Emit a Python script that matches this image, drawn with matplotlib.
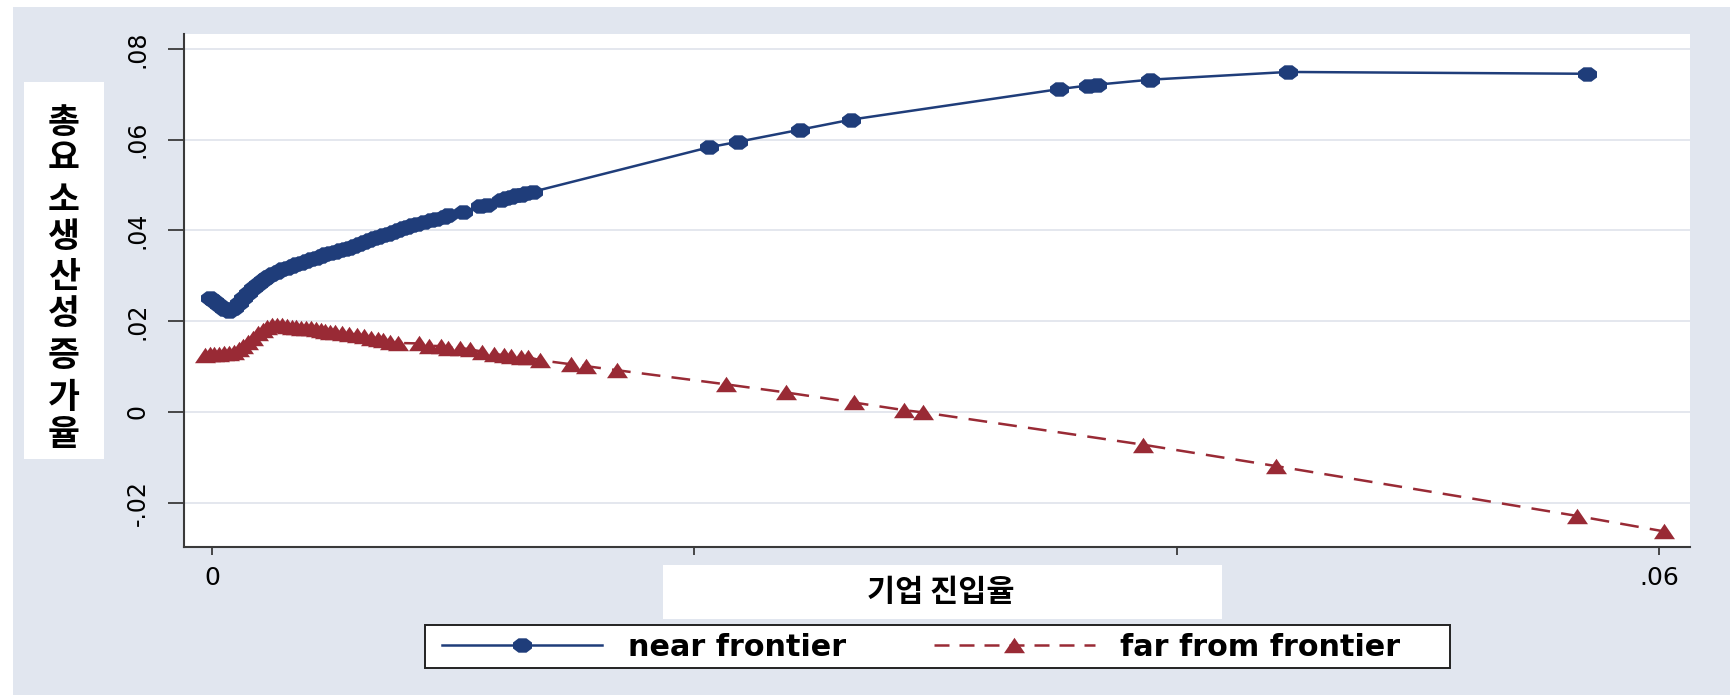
"""
TFP growth vs. firm entry rate, near / far from frontier (Stata-style line plot).
"""

import numpy as np
import matplotlib
matplotlib.use("Agg")
import matplotlib.pyplot as plt
from matplotlib.lines import Line2D
from matplotlib.patches import Rectangle
from matplotlib.path import Path

# ---- data ----
near_x = [-0.0001, 0.0001, 0.0003, 0.0005, 0.0007, 0.0009, 0.0011, 0.0013, 0.0015,
          0.0017, 0.0019, 0.0021, 0.0023, 0.0025, 0.0027, 0.0029, 0.0031, 0.0033,
          0.0035, 0.0037, 0.0039, 0.0041, 0.0043, 0.0045, 0.0047, 0.0049, 0.0051,
          0.0053, 0.0055, 0.0057, 0.0059, 0.0061, 0.0063, 0.0065, 0.0067, 0.0069,
          0.0071, 0.0073, 0.0075, 0.0077, 0.0079, 0.0081, 0.0083, 0.0085, 0.0088,
          0.0091, 0.0093, 0.0096, 0.0098, 0.0104, 0.0111, 0.0114, 0.0120, 0.0122,
          0.0124, 0.0126, 0.0128, 0.0130, 0.0133, 0.0206, 0.0218, 0.0244, 0.0265,
          0.0351, 0.0363, 0.0367, 0.0389, 0.0446, 0.0570]
near_y = [0.0251, 0.0244, 0.0235, 0.0226, 0.0223, 0.0229, 0.0240, 0.0252, 0.0263,
          0.0273, 0.0283, 0.0290, 0.0297, 0.0304, 0.0309, 0.0314, 0.0318, 0.0322,
          0.0326, 0.0329, 0.0333, 0.0337, 0.0340, 0.0344, 0.0347, 0.0350, 0.0353,
          0.0356, 0.0359, 0.0362, 0.0366, 0.0370, 0.0374, 0.0378, 0.0383, 0.0386,
          0.0390, 0.0393, 0.0397, 0.0401, 0.0405, 0.0408, 0.0411, 0.0414, 0.0418,
          0.0422, 0.0425, 0.0430, 0.0433, 0.0440, 0.0453, 0.0456, 0.0468, 0.0471,
          0.0474, 0.0477, 0.0479, 0.0482, 0.0485, 0.0583, 0.0595, 0.0622, 0.0644,
          0.0711, 0.0719, 0.0721, 0.0732, 0.0749, 0.0745]

far_x = [-0.0003, -0.0001, 0.0001, 0.0003, 0.0005, 0.0007, 0.0009, 0.0011, 0.0013,
         0.0015, 0.0017, 0.0019, 0.0021, 0.0023, 0.0025, 0.0027, 0.0029, 0.0031,
         0.0033, 0.0035, 0.0037, 0.0039, 0.0041, 0.0043, 0.0045, 0.0047, 0.0049,
         0.0051, 0.0054, 0.0057, 0.0060, 0.0063, 0.0066, 0.0069, 0.0071, 0.0074,
         0.0077, 0.0086, 0.0090, 0.0095, 0.0098, 0.0103, 0.0107, 0.0112, 0.0117,
         0.0121, 0.0124, 0.0128, 0.0131, 0.0136, 0.0149, 0.0155, 0.0168, 0.0213,
         0.0238, 0.0266, 0.0287, 0.0295, 0.0386, 0.0441, 0.0566, 0.0602]
far_y = [0.0126, 0.0127, 0.0128, 0.0128, 0.0129, 0.0130, 0.0132, 0.0138, 0.0146,
         0.0155, 0.0164, 0.0173, 0.0181, 0.0188, 0.0192, 0.0192, 0.0191, 0.0190,
         0.0188, 0.0187, 0.0186, 0.0185, 0.0184, 0.0182, 0.0180, 0.0179, 0.0177,
         0.0176, 0.0174, 0.0172, 0.0170, 0.0167, 0.0164, 0.0160, 0.0158, 0.0154,
         0.0152, 0.0151, 0.0146, 0.0145, 0.0142, 0.0141, 0.0138, 0.0133, 0.0128,
         0.0125, 0.0123, 0.0122, 0.0121, 0.0114, 0.0105, 0.0101, 0.0092, 0.0061,
         0.0043, 0.0021, 0.0004, -0.0001, -0.0072, -0.0119, -0.0229, -0.0263]

series_labels = ["near frontier", "far from frontier"]
x_ticks = [0, 0.02, 0.04, 0.06]
x_tick_labels = ["0", ".02", ".04", ".06"]
y_ticks = [-0.02, 0, 0.02, 0.04, 0.06, 0.08]
y_tick_labels = ["-.02", "0", ".02", ".04", ".06", ".08"]
x_title = "기업 진입율"
y_title = "총요소생산성 증가율"

# ---- style ----
W, H = 1731, 695
BG = "#E1E6EF"
NAVY = "#1F3D7A"
MAROON = "#992A35"
AXCOL = "#3A3A3A"
GRID = "#E4E7EE"
KFONT = ["Noto Sans CJK KR", "DejaVu Sans"]
PX = 0.72  # points per pixel at dpi 100

# the original graph is stretched sideways, so markers are wider than tall
ang = np.linspace(0, 2 * np.pi, 9)[:-1] + np.pi / 8
circ_marker = Path(np.column_stack([0.66 * np.cos(ang), 0.5 * np.sin(ang)]))
tri_marker = Path([(-0.68, -0.5), (0.68, -0.5), (0.0, 0.5), (-0.68, -0.5)])

fig = plt.figure(figsize=(W / 100, H / 100), dpi=100, facecolor="white")


def fx(px):
    return px / W


def fy(py):
    return 1 - py / H


# graph region background (thin white strip stays on the top and left)
fig.add_artist(Rectangle((fx(13), 0), 1, fy(7), transform=fig.transFigure,
                         facecolor=BG, edgecolor="none", zorder=-1))

ax = fig.add_axes([fx(184), fy(547), fx(1690 - 184), (547 - 34) / H])
ax.set_facecolor("white")
ax.set_xlim(-0.00116, 0.06128)
ax.set_ylim(-0.02974, 0.08326)

ax.plot(near_x, near_y, color=NAVY, lw=1.8, marker=circ_marker,
        markersize=19 * PX, markeredgewidth=0, zorder=3)
ax.plot(far_x, far_y, color=MAROON, lw=1.8, ls=(0, (7.5, 4.5)), marker=tri_marker,
        markersize=21 * PX, markeredgewidth=0, zorder=3)

for s in ["top", "right"]:
    ax.spines[s].set_visible(False)
for s in ["left", "bottom"]:
    ax.spines[s].set_color(AXCOL)
    ax.spines[s].set_linewidth(1.5)

ax.set_yticks(y_ticks)
ax.set_yticklabels(y_tick_labels, rotation=90, va="center", fontsize=17)
ax.set_xticks(x_ticks)
ax.set_xticklabels(x_tick_labels, fontsize=18)
ax.tick_params(axis="y", length=16 * PX, width=1.3, color=AXCOL, pad=13)
ax.tick_params(axis="x", length=8 * PX, width=1.3, color=AXCOL, pad=8)
ax.yaxis.grid(True, color=GRID, linewidth=2 * PX)
ax.set_axisbelow(True)

# white title boxes on top of the graph region
fig.add_artist(Rectangle((fx(24), fy(459)), fx(104 - 24), (459 - 82) / H,
                         transform=fig.transFigure, facecolor="white",
                         edgecolor="none", zorder=5))
fig.add_artist(Rectangle((fx(663), fy(619)), fx(1222 - 663), (619 - 565) / H,
                         transform=fig.transFigure, facecolor="white",
                         edgecolor="none", zorder=5))

fig.text(fx(941), fy(592), x_title, ha="center", va="center", fontsize=22,
         fontweight="bold", family=KFONT, zorder=6)

# vertical title, one upright syllable per line
char_y = [122, 159, 200, 237, 277, 313, 355, 398, 435]
for ch, py in zip(y_title.replace(" ", ""), char_y):
    fig.text(fx(64), fy(py), ch, ha="center", va="center", fontsize=25,
             fontweight="bold", family=KFONT, zorder=6)

# legend
fig.add_artist(Rectangle((fx(425), fy(668)), fx(1450 - 425), (668 - 625) / H,
                         transform=fig.transFigure, facecolor="white",
                         edgecolor="#222222", linewidth=1.4, zorder=5))
handles = [
    Line2D([], [], color=NAVY, lw=1.8, marker=circ_marker,
           markersize=19 * PX, markeredgewidth=0),
    Line2D([], [], color=MAROON, lw=1.8, ls=(0, (6, 4)), marker=tri_marker,
           markersize=21 * PX, markeredgewidth=0),
]
leg = fig.legend(handles, series_labels, loc="center left",
                 bbox_to_anchor=(fx(442), fy(647)), ncol=2, frameon=False,
                 borderpad=0, borderaxespad=0, handlelength=5.3,
                 handletextpad=0.85, columnspacing=2.9,
                 prop={"family": "DejaVu Sans", "weight": "bold", "size": 21.8})
leg.set_zorder(6)

fig.savefig("out.png", dpi=100, facecolor=fig.get_facecolor())
